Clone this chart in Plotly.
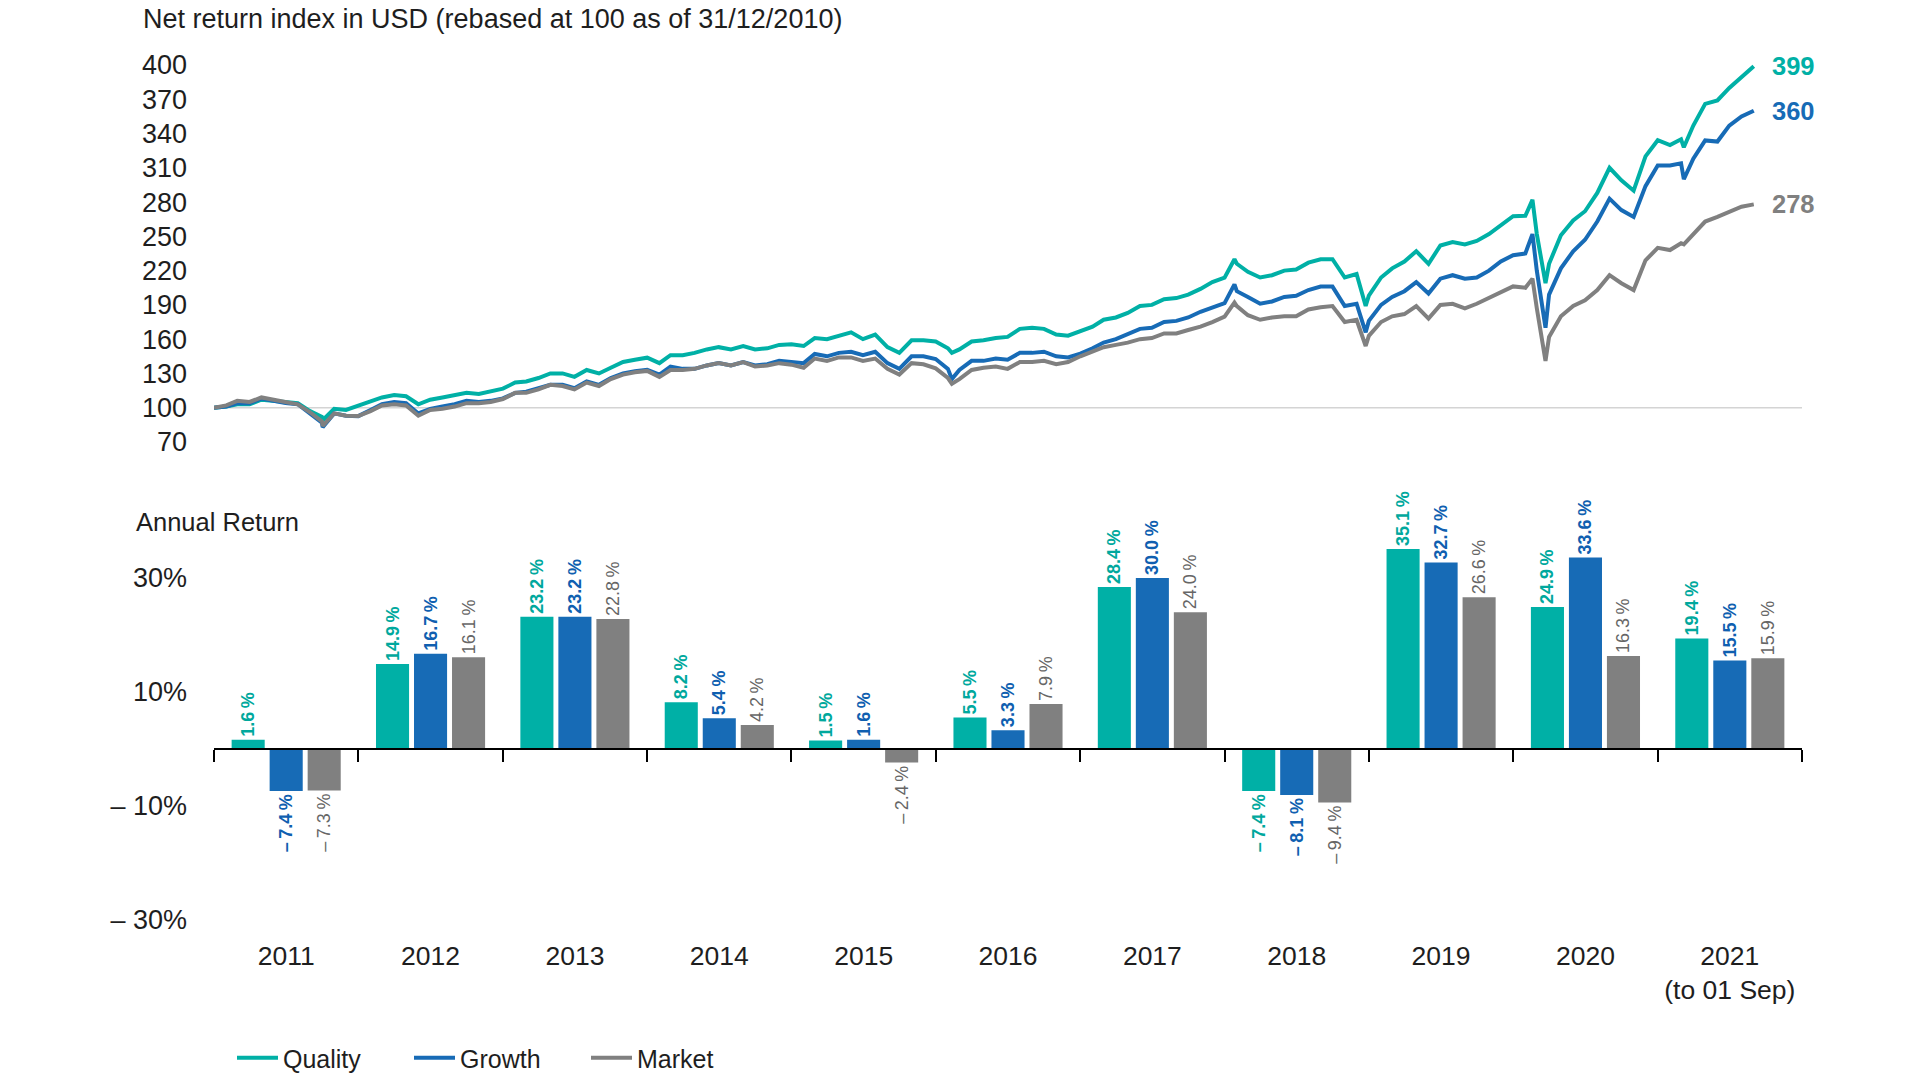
import pandas as pd
import plotly.graph_objects as go

# ---------------- data ----------------
years = ["2011", "2012", "2013", "2014", "2015", "2016", "2017", "2018", "2019", "2020", "2021"]
year_ticktext = ["2011", "2012", "2013", "2014", "2015", "2016", "2017", "2018", "2019", "2020",
                 "2021<br>(to 01 Sep)"]

ret_quality = [1.6, 14.9, 23.2, 8.2, 1.5, 5.5, 28.4, -7.4, 35.1, 24.9, 19.4]
ret_growth = [-7.4, 16.7, 23.2, 5.4, 1.6, 3.3, 30.0, -8.1, 32.7, 33.6, 15.5]
ret_market = [-7.3, 16.1, 22.8, 4.2, -2.4, 7.9, 24.0, -9.4, 26.6, 16.3, 15.9]

REBASE = 100

# index levels at the start of each month (2011-01 .. 2021-09)
idx_quality = [100,
    101, 103, 103, 107, 106, 105, 104, 97, 92, 99, 98, 101.6,
    105, 109, 111, 110, 103, 107, 109, 111, 113, 112, 114, 116.7,
    122, 123, 126, 130, 130, 127, 133, 130, 135, 140, 142, 143.8,
    139, 146, 146, 148, 151, 153, 151, 154, 151, 152, 155, 155.6,
    154, 161, 160, 163, 166, 160, 164, 153, 148, 159, 159, 157.9,
    152, 151, 158, 159, 161, 162, 169, 170, 169, 164, 163, 166.6,
    171, 177, 179, 183, 189, 190, 195, 196, 199, 204, 210, 213.9,
    226, 219, 214, 216, 220, 221, 227, 230, 230, 214, 217, 198.1,
    214, 222, 228, 237, 226, 242, 245, 243, 246, 252, 260, 267.6,
    268, 252, 226, 251, 264, 272, 288, 310, 299, 290, 320, 334.2,
    330, 335, 347, 366, 369, 380, 390, 399]
idx_growth = [100,
    101, 104, 104, 108, 106, 104, 103, 95, 87, 95, 93, 92.6,
    98, 103, 105, 104, 95, 99, 101, 103, 106, 105, 106, 108.1,
    113, 114, 117, 120, 120, 117, 123, 120, 126, 130, 132, 133.1,
    129, 136, 134, 134, 137, 139, 137, 140, 137, 138, 141, 140.3,
    139, 147, 145, 148, 149, 146, 149, 139, 134, 145, 145, 142.6,
    134, 133, 141, 141, 143, 142, 148, 148, 149, 145, 144, 147.3,
    152, 157, 160, 164, 169, 170, 175, 176, 179, 184, 188, 191.5,
    202, 197, 191, 193, 197, 198, 203, 206, 206, 189, 191, 176.0,
    190, 197, 202, 210, 200, 213, 216, 213, 214, 220, 228, 233.5,
    235, 220, 199, 222, 237, 247, 263, 283, 273, 267, 294, 312.0,
    312, 314, 318, 334, 333, 347, 355, 360]
idx_market = [100,
    102, 106, 105, 109, 107, 105, 103, 96, 88, 95, 93, 92.7,
    97, 102, 103, 102, 93, 98, 99, 101, 104, 104, 105, 107.6,
    113, 113, 116, 120, 119, 116, 122, 119, 125, 129, 131, 132.2,
    127, 133, 133, 134, 137, 139, 137, 140, 136, 137, 139, 137.7,
    135, 143, 141, 144, 144, 141, 143, 134, 129, 139, 138, 134.4,
    126, 125, 133, 135, 136, 134, 140, 140, 141, 138, 140, 145.0,
    149, 153, 155, 157, 160, 161, 165, 165, 168, 171, 175, 179.8,
    189, 181, 177, 179, 180, 180, 186, 188, 189, 175, 177, 162.9,
    175, 180, 182, 189, 178, 190, 191, 187, 191, 196, 201, 206.2,
    205, 187, 162, 180, 189, 194, 203, 216, 209, 203, 229, 239.9,
    238, 244, 252, 263, 267, 271, 276, 278]

# intra-month extremes
extra_dates = ["2011-10-03", "2016-02-11", "2018-01-26", "2018-12-24", "2020-02-19", "2020-03-23", "2021-03-08"]
extra_quality = [89, 148, 230, 189, 282, 209, 328]
extra_growth = [83, 125, 208, 166, 252, 170, 300]
extra_market = [84, 121, 192, 154, 213, 141, 243]

# ---------------- styling ----------------
TEAL, BLUE, GREY = "#00B0A6", "#176BB6", "#808080"
TEAL_T, BLUE_T, GREY_T = "#00A89D", "#0F5FB0", "#666666"
FONT = "Liberation Sans, Arial, Helvetica, sans-serif"
INK = "#1e1e1e"

W, H = 1920, 1080


def px(x):
    return x / W


def py(y):
    return 1 - y / H


month_dates = pd.date_range("2011-01-01", "2021-09-01", freq="MS")


def build(monthly, extra):
    s = pd.concat([pd.Series(monthly, index=month_dates),
                   pd.Series(extra, index=pd.to_datetime(extra_dates))])
    return s.sort_index()


series = [
    ("Quality", build(idx_quality, extra_quality), TEAL),
    ("Growth", build(idx_growth, extra_growth), BLUE),
    ("Market", build(idx_market, extra_market), GREY),
]


def fmt(v):
    sign = "\u2013\u2009" if v < 0 else ""
    return f"{sign}{abs(v):.1f}\u2009%"


fig = go.Figure()

for name, s, col in series:
    fig.add_trace(go.Scatter(x=s.index, y=s.values, name=name, mode="lines",
                             line=dict(color=col, width=4), xaxis="x", yaxis="y",
                             hoverinfo="skip"))

bar_specs = [(ret_quality, TEAL, TEAL_T, "bold"),
             (ret_growth, BLUE, BLUE_T, "bold"),
             (ret_market, GREY, GREY_T, "normal")]
for vals, col, tcol, wt in bar_specs:
    fig.add_trace(go.Bar(x=years, y=vals, marker=dict(color=col, line=dict(width=0)),
                         text=[fmt(v) for v in vals], textposition="outside",
                         textangle=-90, constraintext="none", cliponaxis=False,
                         textfont=dict(color=tcol, size=18, weight=wt, family=FONT),
                         xaxis="x2", yaxis="y2", showlegend=False, hoverinfo="skip"))

# helper trace for the year-label axis
fig.add_trace(go.Scatter(x=years, y=[0] * len(years), mode="markers",
                         marker=dict(opacity=0), xaxis="x3", yaxis="y2",
                         showlegend=False, hoverinfo="skip"))

# end-value labels
for name, s, col in series:
    fig.add_annotation(x=s.index[-1], y=s.values[-1], xref="x", yref="y",
                       text=f"<b>{round(s.values[-1])}</b>", showarrow=False,
                       xanchor="left", yanchor="middle", xshift=16,
                       font=dict(size=25.5, color=col, family=FONT))

fig.add_shape(type="line", xref="x domain", x0=0, x1=1, yref="y", y0=REBASE, y1=REBASE,
              line=dict(color="#d4d4d4", width=1.5), layer="below")

fig.add_annotation(text="Net return index in USD (rebased at 100 as of 31/12/2010)",
                   xref="paper", yref="paper", x=px(141), y=py(19),
                   xanchor="left", yanchor="middle", showarrow=False,
                   font=dict(size=27, color=INK, family=FONT))
fig.add_annotation(text="Annual Return",
                   xref="paper", yref="paper", x=px(134), y=py(522),
                   xanchor="left", yanchor="middle", showarrow=False,
                   font=dict(size=25.5, color=INK, family=FONT))

dom_x = [px(214), px(1802)]
top_ticks = list(range(70, 401, 30))

fig.update_layout(
    width=W, height=H,
    margin=dict(l=0, r=0, t=0, b=0, autoexpand=False),
    paper_bgcolor="white", plot_bgcolor="white",
    font=dict(family=FONT, size=26, color=INK),
    barmode="group", bargap=0.21, bargroupgap=0.13,
    xaxis=dict(domain=dom_x, type="date", range=["2011-01-01", "2022-01-01"],
               visible=False, anchor="y"),
    yaxis=dict(domain=[py(451.1), py(55.9)], range=[62, 408],
               tickvals=top_ticks, ticktext=[str(t) for t in top_ticks],
               showgrid=False, zeroline=False, showline=False, ticks="",
               ticklabelstandoff=26, tickfont=dict(size=27, color=INK), anchor="x",
               automargin=False),
    xaxis2=dict(domain=dom_x, type="category", range=[-0.5, 10.5],
                anchor="free", position=py(749),
                showline=True, linecolor="black", linewidth=2,
                ticks="outside", tickson="boundaries", ticklen=12, tickwidth=2,
                tickcolor="black", showticklabels=False, showgrid=False, zeroline=False,
                automargin=False),
    xaxis3=dict(domain=dom_x, type="category", range=[-0.5, 10.5],
                overlaying="x2", anchor="y2",
                tickvals=years, ticktext=year_ticktext,
                showline=False, ticks="", showgrid=False, zeroline=False,
                tickfont=dict(size=26.5, color=INK), automargin=False),
    yaxis2=dict(domain=[py(937), py(521)], range=[-33, 40],
                tickvals=[-30, -10, 10, 30],
                ticktext=["\u2013 30%", "\u2013 10%", "10%", "30%"],
                showgrid=False, zeroline=False, showline=False, ticks="",
                ticklabelstandoff=26, tickfont=dict(size=27, color=INK), anchor="x3",
                automargin=False),
    legend=dict(orientation="h", x=px(232), y=py(1058),
                xanchor="left", yanchor="middle", itemwidth=41,
                font=dict(size=25, color=INK), entrywidth=121, entrywidthmode="pixels",
                bgcolor="rgba(0,0,0,0)", tracegroupgap=0),
    showlegend=True,
)

fig.write_html("out.html", config={"displayModeBar": False},
               post_script="document.body.style.margin='0px';document.body.style.overflow='hidden';")
